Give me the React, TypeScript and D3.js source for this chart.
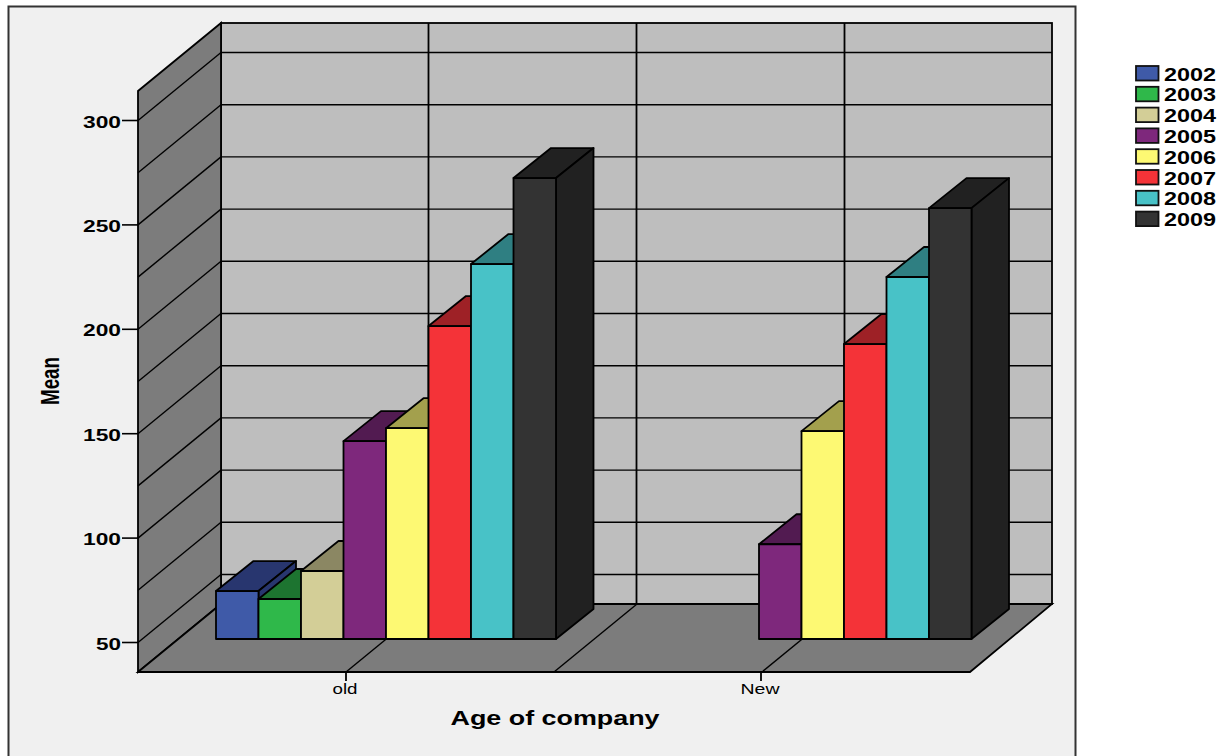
import React from "react";
import * as d3 from "d3";

const years = ["2002", "2003", "2004", "2005", "2006", "2007", "2008", "2009"];
const groups = ["old", "New"];
const oldMeans: (number | null)[] = [58.6, 54.8, 68.2, 130.4, 136.6, 185.5, 215.2, 256.4];
const newMeans: (number | null)[] = [null, null, null, 81, 135.2, 176.9, 209, 242];
const frontColors = ["#3f5aa8", "#2fb84a", "#d3ce97", "#7e287c", "#fdf973", "#f43338", "#48c2c7", "#333333"];
const shadeColors = ["#28366f", "#1d7430", "#8b8763", "#521b51", "#a3a04d", "#9e2126", "#2f7f82", "#212121"];
const axisTicks = [50, 100, 150, 200, 250, 300];
const gridValues = d3.range(50, 301, 25);

const FONT = "'Liberation Sans', Arial, sans-serif";

// Box of the 3D chart: front floor edge, and how far the rear wall is pushed back.
const left = 138;
const right = 970;
const floorY = 672;
const topY = 91;
const wallDx = 83;
const wallDy = 68;
// Bars stand partway into the box and have their own depth.
const planeDx = 40;
const planeDy = 33;
const barDx = 37.5;
const barDy = 30;

const y = d3.scaleLinear().domain([50, 300]).range([642.5, 120.5]);
const xGroup = d3.scaleBand().domain(groups).range([left, right]);
const xYear = d3.scaleBand().domain(years).range([-170, 170]);

const poly = (pts: [number, number][]) => pts.map((p) => p.join(",")).join(" ");

function Bar({ group, i, value }: { group: string; i: number; value: number }) {
  const x0 = xGroup(group)! + xGroup.bandwidth() / 2 + planeDx + xYear(years[i])! - (group === "New" ? 0.5 : 0);
  const x1 = x0 + xYear.bandwidth();
  const top = y(value) - planeDy - 0.5;
  const base = floorY - planeDy;
  const stroke = { stroke: "#000", strokeWidth: 1.8, strokeLinejoin: "round" as const };
  return (
    <g>
      <polygon
        points={poly([[x0, top], [x1, top], [x1 + barDx, top - barDy], [x0 + barDx, top - barDy]])}
        fill={shadeColors[i]}
        {...stroke}
      />
      <polygon
        points={poly([[x1, top], [x1 + barDx, top - barDy], [x1 + barDx, base - barDy], [x1, base]])}
        fill={shadeColors[i]}
        {...stroke}
      />
      <rect x={x0} y={top} width={x1 - x0} height={base - top} fill={frontColors[i]} {...stroke} />
    </g>
  );
}

export default function App() {
  const wallLeft = left + wallDx;
  const wallRight = right + wallDx - 1;
  const wallTop = topY - wallDy;
  const wallBottom = floorY - wallDy;
  const centers = groups.map((g) => xGroup(g)! + xGroup.bandwidth() / 2);
  const dividers = [centers[0], left + xGroup.bandwidth(), centers[1]];

  return (
    <svg
      width={1232}
      height={756}
      style={{ position: "absolute", left: 0, top: 0, background: "#fff" }}
      fontFamily={FONT}
    >
      <rect x={8.5} y={6.5} width={1067} height={760} fill="#f0f0f0" stroke="#333" strokeWidth={2} />

      {/* rear wall */}
      <rect x={wallLeft} y={wallTop} width={wallRight - wallLeft} height={wallBottom - wallTop} fill="#bebebe" stroke="#000" strokeWidth={1.8} />
      {gridValues.map((v) => (
        <line key={v} x1={wallLeft} x2={wallRight} y1={y(v) - wallDy} y2={y(v) - wallDy} stroke="#000" strokeWidth={1.4} />
      ))}
      {dividers.map((d) => (
        <line key={d} x1={d + wallDx - 0.5} x2={d + wallDx - 0.5} y1={wallTop} y2={wallBottom} stroke="#000" strokeWidth={1.8} />
      ))}

      {/* side wall */}
      <polygon
        points={poly([[left, floorY], [left, topY], [wallLeft, wallTop], [wallLeft, wallBottom]])}
        fill="#7c7c7c"
        stroke="#000"
        strokeWidth={1.8}
      />
      {gridValues.map((v) => (
        <line key={v} x1={left} x2={wallLeft} y1={y(v)} y2={y(v) - wallDy} stroke="#000" strokeWidth={1.4} />
      ))}

      {/* floor */}
      <polygon
        points={poly([[left, floorY], [right, floorY], [wallRight, wallBottom], [wallLeft, wallBottom]])}
        fill="#7c7c7c"
        stroke="#000"
        strokeWidth={1.8}
      />
      {dividers.map((d) => (
        <line key={d} x1={d} x2={d + wallDx} y1={floorY} y2={wallBottom} stroke="#000" strokeWidth={1.4} />
      ))}

      {/* bars, painted left to right so each one overlaps its neighbour's side */}
      {[oldMeans, newMeans].map((series, s) =>
        series.map((v, i) => (v === null ? null : <Bar key={`${s}-${i}`} group={groups[s]} i={i} value={v} />))
      )}

      {/* value axis */}
      {axisTicks.map((t) => (
        <g key={t}>
          <line x1={left - 16} x2={left} y1={y(t)} y2={y(t)} stroke="#000" strokeWidth={1.6} />
          <text
            x={left - 17}
            y={y(t) + 7}
            textAnchor="end"
            fontWeight="bold"
            fontSize={17}
            textLength={String(t).length === 3 ? 38 : 25}
            lengthAdjust="spacingAndGlyphs"
            fill="#000"
          >
            {t}
          </text>
        </g>
      ))}
      <text
        transform="translate(59,381) rotate(-90)"
        textAnchor="middle"
        fontWeight="bold"
        fontSize={26}
        textLength={48}
        lengthAdjust="spacingAndGlyphs"
        fill="#000"
      >
        Mean
      </text>

      {/* category axis */}
      {groups.map((g, i) => (
        <g key={g}>
          <line x1={centers[i] - i} x2={centers[i] - i} y1={floorY} y2={floorY + 9} stroke="#000" strokeWidth={1.8} />
          <text
            x={centers[i] - 1 - i}
            y={floorY + 22}
            textAnchor="middle"
            fontSize={14}
            textLength={i === 0 ? 25 : 39}
            lengthAdjust="spacingAndGlyphs"
            fill="#000"
          >
            {g}
          </text>
        </g>
      ))}
      <text
        x={555}
        y={725}
        textAnchor="middle"
        fontWeight="bold"
        fontSize={20}
        textLength={209}
        lengthAdjust="spacingAndGlyphs"
        fill="#000"
      >
        Age of company
      </text>

      {/* legend */}
      {years.map((yr, i) => (
        <g key={yr} transform={`translate(0,${i * 20.8})`}>
          <rect x={1136} y={66} width={22.5} height={14.5} fill={frontColors[i]} stroke="#111" strokeWidth={1.8} />
          <text
            x={1164}
            y={80.5}
            fontWeight="bold"
            fontSize={17.5}
            textLength={52}
            lengthAdjust="spacingAndGlyphs"
            fill="#000"
          >
            {yr}
          </text>
        </g>
      ))}
    </svg>
  );
}
